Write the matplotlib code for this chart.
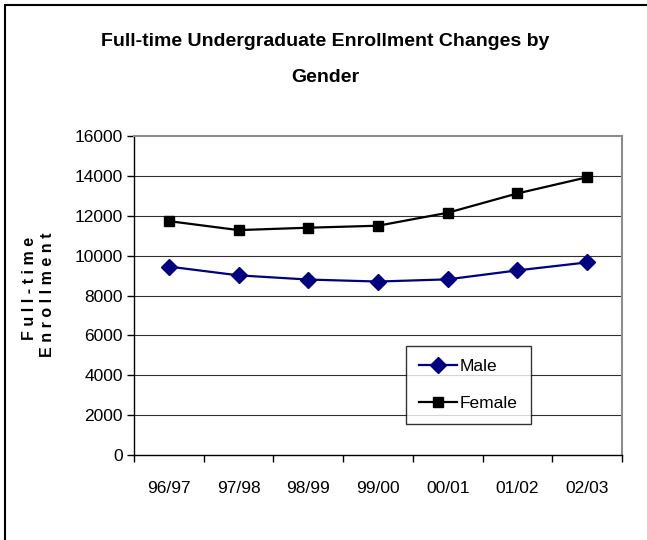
import matplotlib
matplotlib.use("Agg")
import matplotlib.pyplot as plt
from matplotlib.patches import Rectangle

years = ["96/97", "97/98", "98/99", "99/00", "00/01", "01/02", "02/03"]
male = [9450, 9010, 8800, 8700, 8810, 9260, 9660]
female = [11730, 11280, 11400, 11500, 12150, 13120, 13930]

narrow = ["Liberation Sans Narrow", "Liberation Sans", "DejaVu Sans"]

fig = plt.figure(figsize=(6.47, 5.40), dpi=100)
ax = fig.add_axes([134/647, 85/540, 488/647, 319/540])

x = range(len(years))
ax.plot(x, male, color="#000080", lw=1.6, marker="D", ms=8, label="Male")
ax.plot(x, female, color="black", lw=1.6, marker="s", ms=7.5, label="Female")

ax.set_xlim(-0.5, len(years) - 0.5)
ax.set_ylim(0, 16000)
ax.set_yticks(range(0, 16001, 2000))
ax.set_yticklabels([str(v) for v in range(0, 16001, 2000)], family=narrow, fontsize=12.5)
ax.set_xticks(list(x))
ax.set_xticklabels(years, family=narrow, fontsize=12.5)
ax.set_xticks([i + 0.5 for i in range(-1, len(years))], minor=True)
ax.tick_params(axis="x", which="major", length=0, pad=19)
ax.tick_params(axis="x", which="minor", length=5, width=1, direction="out")
ax.tick_params(axis="y", length=5, width=1, direction="out", pad=3)

for v in range(2000, 16000, 2000):
    ax.axhline(v, color="#303030", lw=0.8, zorder=0)

for s in ["top", "right"]:
    ax.spines[s].set_color("#8c8c8c")
    ax.spines[s].set_linewidth(1.5)
ax.spines["left"].set_linewidth(1)
ax.spines["bottom"].set_linewidth(1)

leg = ax.legend(loc="upper left", bbox_to_anchor=((406-134)/488, (455-346)/319),
                borderaxespad=0, prop={"family": narrow, "size": 12.5}, fancybox=False,
                frameon=True, edgecolor="black", handlelength=2.2, borderpad=0.75,
                labelspacing=1.25, handletextpad=0.15)
leg.get_frame().set_linewidth(1)

fig.text(325/647, 1 - 42/540, "Full-time Undergraduate Enrollment Changes by",
         ha="center", va="center", fontsize=14, fontweight="bold", family=narrow)
fig.text(325/647, 1 - 77/540, "Gender", ha="center", va="center",
         fontsize=14, fontweight="bold", family=narrow)

fig.text(30/647, 1 - 288/540, "F u l l - t i m e", rotation=90, ha="center", va="center",
         fontsize=11.5, fontweight="bold", family=["Liberation Sans", "DejaVu Sans"])
fig.text(48/647, 1 - 295/540, "E n r o l l m e n t", rotation=90, ha="center", va="center",
         fontsize=11.5, fontweight="bold", family=["Liberation Sans", "DejaVu Sans"])

fig.patches.append(Rectangle((5/647, -0.1), 1.2, 1 - 5/540 + 0.1, transform=fig.transFigure,
                             fill=False, edgecolor="black", lw=1.5))

fig.savefig("out.png", dpi=100)
